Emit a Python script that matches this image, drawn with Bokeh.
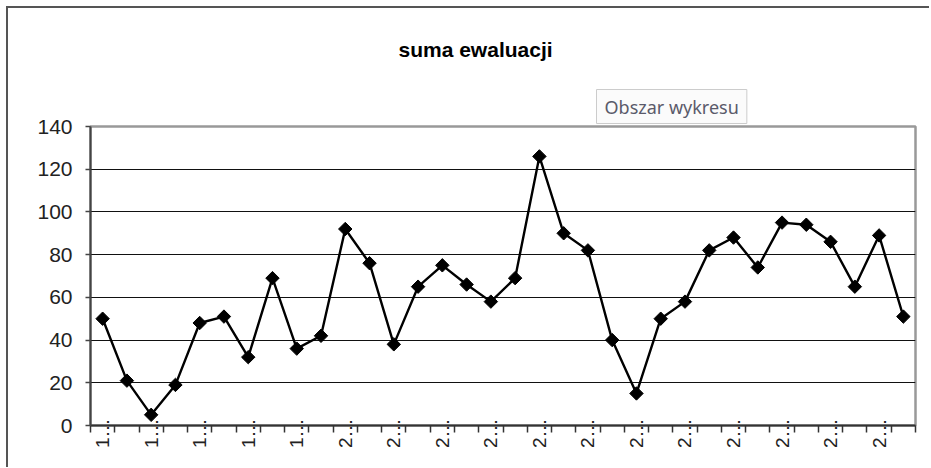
from bokeh.plotting import figure
from bokeh.models import Range1d, FixedTicker, Title, CustomJSTickFormatter
from bokeh.embed import file_html
from bokeh.resources import INLINE
import math

title_text = "suma ewaluacji"
tooltip_text = "Obszar wykresu"
categories = ["1…"] * 10 + ["2…"] * 24
values = [50, 21, 5, 19, 48, 51, 32, 69, 36, 42, 92, 76, 38, 65, 75, 66, 58,
          69, 126, 90, 82, 40, 15, 50, 58, 82, 88, 74, 95, 94, 86, 65, 89, 51]
y_ticks = [0, 20, 40, 60, 80, 100, 120, 140]

n = len(values)
xs = list(range(n))

W, H = 923, 461
p = figure(width=W, height=H, output_backend="svg", toolbar_location=None,
           x_range=Range1d(-0.5, n - 0.5), y_range=Range1d(0, 140),
           min_border_left=82, min_border_right=16, min_border_top=118,
           min_border_bottom=44)
p.styles = {"border-left": "2px solid #555555", "border-top": "2px solid #555555",
            "margin-left": "6px", "margin-top": "6px"}

p.outline_line_color = "#999999"
p.outline_line_width = 2.5
p.background_fill_color = "white"
p.border_fill_color = "white"

p.line(xs, values, line_color="black", line_width=2.4)
p.scatter(xs, values, marker="square", angle=math.pi / 4, size=9.5,
          fill_color="black", line_color="black")

# y axis
yax = p.yaxis[0]
yax.ticker = FixedTicker(ticks=y_ticks)
yax.axis_line_color = "#444444"
yax.axis_line_width = 2
yax.major_tick_line_color = "#444444"
yax.major_tick_line_width = 1.5
yax.major_tick_out = 5
yax.major_tick_in = 0
yax.minor_tick_line_color = None
yax.major_label_text_font = "Liberation Sans"
yax.major_label_text_font_size = "21px"
yax.major_label_text_color = "#222222"
yax.major_label_standoff = 13

# x axis
xax = p.xaxis[0]
label_pos = [i for i in xs if i % 2 == 0]
boundaries = [i + 0.5 for i in range(-1, n)]
xax.ticker = FixedTicker(ticks=label_pos, minor_ticks=boundaries)
xax.formatter = CustomJSTickFormatter(args=dict(labels=categories),
                                      code="return labels[Math.round(tick)];")
xax.major_label_orientation = math.pi / 2
xax.major_tick_line_color = None
xax.major_tick_out = 0
xax.major_tick_in = 0
xax.minor_tick_line_color = "#333333"
xax.minor_tick_line_width = 1.5
xax.minor_tick_out = 7
xax.minor_tick_in = 0
xax.axis_line_color = "#333333"
xax.axis_line_width = 2
xax.major_label_text_font = "Liberation Sans"
xax.major_label_text_font_size = "19px"
xax.major_label_text_color = "#222222"
xax.major_label_standoff = -14

p.xgrid.grid_line_color = None
p.ygrid.ticker = FixedTicker(ticks=[20, 40, 60, 80, 100, 120])
p.ygrid.grid_line_color = "#111111"
p.ygrid.grid_line_width = 1.2

# chart title (outermost) and the tooltip box closest to the plot area
p.title.text = title_text
p.title.text_font = "Liberation Sans"
p.title.text_font_size = "21px"
p.title.text_font_style = "bold"
p.title.text_color = "black"
p.title.align = "left"
p.title.offset = 308
p.title.standoff = 47

p.add_layout(Title(text=tooltip_text, text_font="Noto Sans", text_font_size="18px",
                   text_font_style="normal", text_color="#5a5a6a",
                   align="left", offset=506, standoff=6, padding=(8, 5),
                   background_fill_color="#fbfbfb",
                   border_line_color="#cccccc", border_line_width=1), "above")

open("out.html", "w").write(file_html(p, INLINE))
